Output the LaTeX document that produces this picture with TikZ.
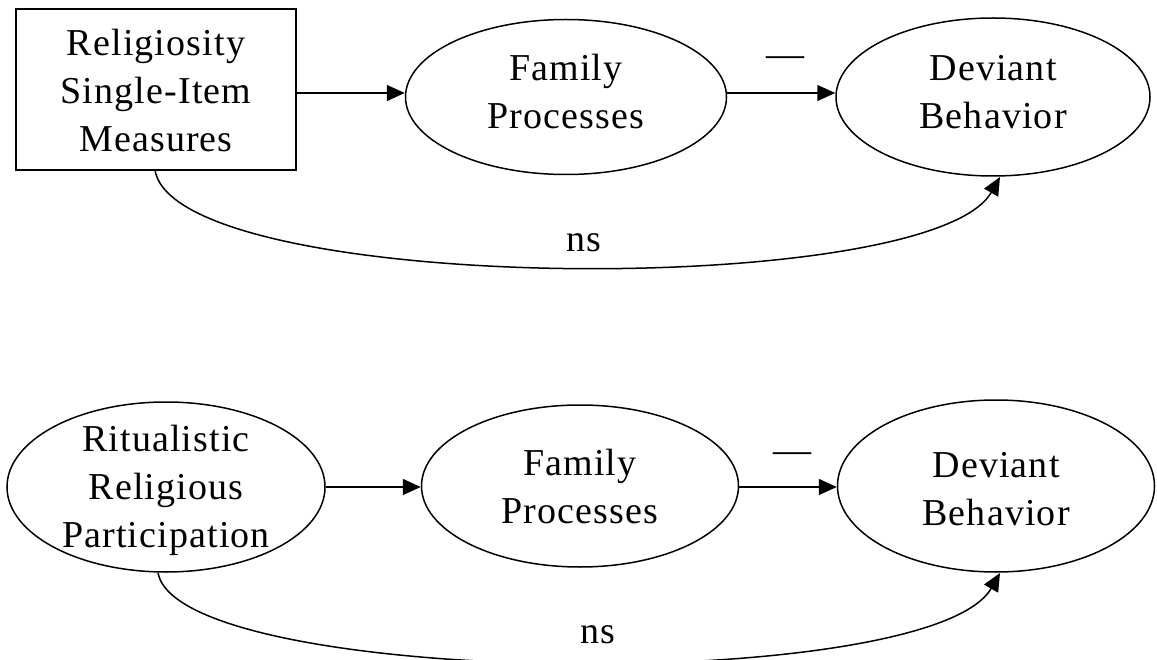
\documentclass[tikz,border=0pt]{standalone}
\usepackage{fontspec}
\setmainfont[LetterSpace=3]{Liberation Serif}
\usetikzlibrary{shapes.geometric,arrows.meta}
\tikzset{
  lbl/.style={font=\fontsize{38}{48}\selectfont,align=center,inner sep=0},
  ell/.style={draw,ellipse,inner sep=0,line width=1.5pt},
  boxn/.style={draw,rectangle,inner sep=0,line width=1.5pt},
  arr/.style={-{Triangle[length=18pt,width=16pt]},line width=1.5pt},
}
\begin{document}
\begin{tikzpicture}[x=1pt,y=-1pt,line width=1.5pt]
\useasboundingbox (0,0) rectangle (1157,660);
% top row
\node[boxn,minimum width=280,minimum height=161] (rs) at (156,89.5) {};
\node[lbl] (rst) at (156,91) {Religiosity\\Single-Item\\Measures};
\node[ell,minimum width=321,minimum height=155] (fp1) at (566,97) {};
\node[lbl] (fp1t) at (566,92) {Family\\Processes};
\node[ell,minimum width=314,minimum height=158] (db1) at (993,97) {};
\node[lbl] (db1t) at (993,92) {Deviant\\Behavior};
\draw[arr] (rs.east |- 0,93) -- (fp1.west |- 0,93);
\draw[arr] (fp1.east |- 0,93) -- (db1.west |- 0,93);
\node[lbl] (m1) at (785,62) {—};
\coordinate (s1) at (155,170);
\coordinate (e1) at (1000,177);
\draw[arr] (s1) .. controls (175,295) and (930,300) .. (e1);
\node[lbl] (ns1) at (584,243) {ns};
% bottom row
\node[ell,minimum width=318,minimum height=170] (rr) at (166,487) {};
\node[lbl] (rrt) at (166,490) {Ritualistic\\Religious\\Participation};
\node[ell,minimum width=317,minimum height=162] (fp2) at (580,486) {};
\node[lbl] (fp2t) at (580,487) {Family\\Processes};
\node[ell,minimum width=317,minimum height=172] (db2) at (996,486) {};
\node[lbl] (db2t) at (996,489) {Deviant\\Behavior};
\draw[arr] (rr.east |- 0,487) -- (fp2.west |- 0,487);
\draw[arr] (fp2.east |- 0,487) -- (db2.west |- 0,487);
\node[lbl] (m2) at (792,458) {—};
\coordinate (s2) at (158,573);
\coordinate (e2) at (1000,573);
\draw[arr] (s2) .. controls (180,688) and (930,695) .. (e2);
\node[lbl] (ns2) at (598,635) {ns};
\end{tikzpicture}
\end{document}
